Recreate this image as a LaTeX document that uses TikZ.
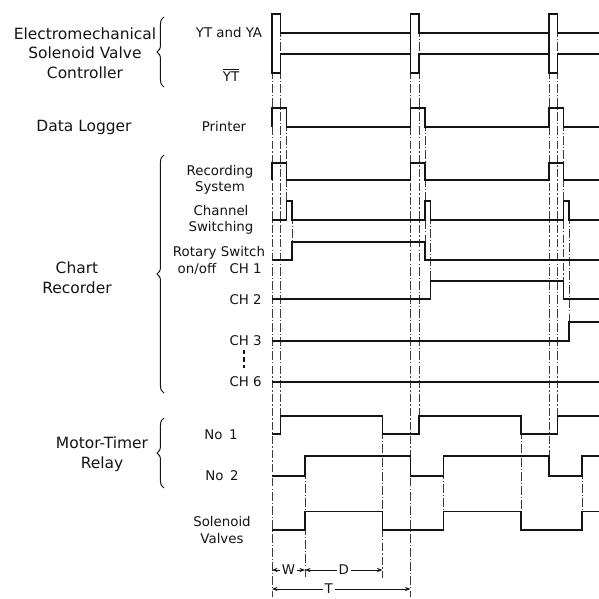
\documentclass[tikz,border=0pt]{standalone}
\usepackage{fontspec}
\setmainfont{DejaVu Sans}
\definecolor{ink}{RGB}{20,20,20}
\definecolor{soft}{RGB}{60,60,60}
\usetikzlibrary{arrows.meta,decorations.pathreplacing}
\tikzset{
  grouplab/.style={font=\fontsize{11}{14}\selectfont, align=center, inner sep=0pt, text=ink},
  siglab/.style={font=\fontsize{9.5}{11.5}\selectfont, align=center, inner sep=0pt, text=ink},
  dimlab/.style={siglab, fill=white, inner sep=1.5pt},
  wave/.style={draw=ink, line width=1.2pt},
  guide/.style={draw=soft, line width=0.4pt, dash pattern=on 6pt off 1.5pt on 1pt off 1.5pt},
  group/.style={draw=ink, line width=0.7pt, decorate, decoration={brace, amplitude=5pt}},
  dimline/.style={{Stealth[length=4pt,width=3pt]}-{Stealth[length=4pt,width=3pt]}, draw=ink, line width=0.5pt},
}

\begin{document}
\begin{tikzpicture}[x=0.025cm, y=-0.025cm]
  \useasboundingbox (0,0) rectangle (599,599);

  \node[grouplab] (ctrl)   at (85,53)   {Electromechanical\\Solenoid Valve\\Controller};
  \node[grouplab] (logger) at (84,127)  {Data Logger};
  \node[grouplab] (chart)  at (77,278)  {Chart\\Recorder};
  \node[grouplab] (relay)  at (102,454) {Motor-Timer\\Relay};
  \draw[group] (164,87) -- (164,17);
  \draw[group] (164,393) -- (164,155);
  \draw[group] (164,488) -- (164,418);

  \node[siglab] (ytya)    at (229,33)  {YT and YA};
  \node[siglab] (ytbar)   at (231,75)  {$\overline{\hbox{YT}}$};
  \node[siglab] (printer) at (224,127) {Printer};
  \node[siglab] (rec)     at (220,180) {Recording\\System};
  \node[siglab] (chsw)    at (221,220) {Channel\\Switching};
  \node[siglab] (rotary)  at (219,253) {Rotary Switch};
  \node[siglab] (onoff)   at (197,269) {on/off};
  \node[siglab, anchor=east] (ch1) at (262,269) {CH 1};
  \node[siglab, anchor=east] (ch2) at (262,300) {CH 2};
  \node[siglab, anchor=east] (ch3) at (262,341) {CH 3};
  \node[siglab, anchor=east] (ch6) at (262,382) {CH 6};
  \draw[ink, line width=1.1pt, dash pattern=on 3pt off 2.2pt] (244,350) -- (244,368);
  \node[siglab] (no1)    at (221,435) {No\enspace1};
  \node[siglab] (no2)    at (222,476) {No\enspace2};
  \node[siglab] (valves) at (222,530) {Solenoid\\Valves};

  \foreach \x/\a/\b in {272/14/597, 280.5/14/416, 286.5/108/220, 292/201/260,
      410.5/14/597, 419/14/434, 425/108/260, 430.5/201/299,
      549/14/476, 557.5/14/434, 563.5/108/299, 569/201/341,
      305/456/578, 382.5/416/578, 443.5/456/530, 521/416/530, 582/456/530}
    \draw[guide] (\x,\a) -- (\x,\b);

  \draw[wave] (272,33) \foreach \s in {272,410.5,549} { -- (\s,33) -- (\s,14) -- (\s+8.5,14) -- (\s+8.5,33) } -- (599,33);
  \draw[wave] (272,54) \foreach \s in {272,410.5,549} { -- (\s,54) -- (\s,73) -- (\s+8.5,73) -- (\s+8.5,54) } -- (599,54);
  \foreach \s in {272,410.5,549} \draw[wave] (\s,33) -- (\s,54);
  \draw[wave] (272,127) \foreach \s in {272,410.5,549} { -- (\s,127) -- (\s,108) -- (\s+14.5,108) -- (\s+14.5,127) } -- (599,127);
  \draw[wave] (272,180) \foreach \s in {272,410.5,549} { -- (\s,180) -- (\s,163) -- (\s+14.5,163) -- (\s+14.5,180) } -- (599,180);
  \draw[wave] (272,220) \foreach \s in {272,410.5,549} { -- (\s+14.5,220) -- (\s+14.5,201) -- (\s+20,201) -- (\s+20,220) } -- (599,220);
  \draw[wave] (272,260) -- (292,260) -- (292,242) -- (425,242) -- (425,260) -- (599,260);
  \draw[wave] (272,299) -- (430.5,299) -- (430.5,281) -- (563.5,281) -- (563.5,299) -- (599,299);
  \draw[wave] (272,341) -- (569,341) -- (569,322) -- (599,322);
  \draw[wave] (272,382) -- (599,382);
  \draw[wave] (272,434) -- (280.5,434) -- (280.5,416) -- (382.5,416) -- (382.5,434) -- (419,434) -- (419,416)
    -- (521,416) -- (521,434) -- (557.5,434) -- (557.5,416) -- (599,416);
  \draw[wave] (272,476) -- (305,476) -- (305,456) -- (410.5,456) -- (410.5,476) -- (443.5,476) -- (443.5,456)
    -- (549,456) -- (549,476) -- (582,476) -- (582,456) -- (599,456);
  \draw[wave] (272,530) -- (305,530) -- (305,511.5) -- (382.5,511.5) -- (382.5,530) -- (443.5,530) -- (443.5,511.5)
    -- (521,511.5) -- (521,530) -- (582,530) -- (582,511.5) -- (599,511.5);

  \coordinate (w0) at (272,570);
  \coordinate (w1) at (305,570);
  \coordinate (d1) at (382.5,570);
  \coordinate (t0) at (272,589);
  \coordinate (t1) at (410.5,589);
  \draw[dimline] (w0) -- node[dimlab] (wlab) {W} (w1);
  \draw[dimline] (w1) -- node[dimlab] (dlab) {D} (d1);
  \draw[dimline] (t0) -- node[dimlab, pos=0.41] (tlab) {T} (t1);
\end{tikzpicture}
\end{document}
